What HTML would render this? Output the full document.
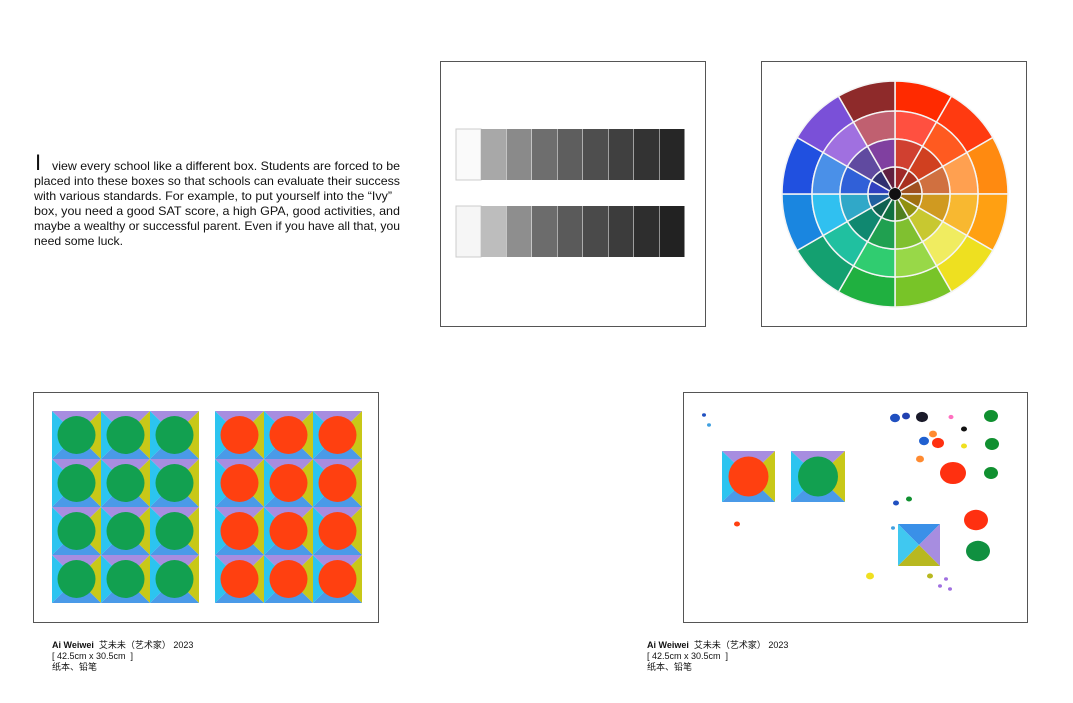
<!DOCTYPE html>
<html><head><meta charset="utf-8"><style>
html,body{margin:0;padding:0;background:#fff;}
body{width:1073px;height:703px;position:relative;overflow:hidden;font-family:"Liberation Sans","Noto Sans CJK SC",sans-serif;}
.frame{position:absolute;border:1px solid #555;box-sizing:border-box;background:#fff;}
.cap{position:absolute;font-size:9px;line-height:11px;color:#111;}
</style></head><body>
<svg style="position:absolute;left:0;top:140px" width="420" height="120" font-family="Liberation Sans, sans-serif" font-size="11.6" fill="#111">
<text x="35" y="30" font-size="22">I</text>
<text x="52" y="30" textLength="348" lengthAdjust="spacingAndGlyphs">view every school like a different box. Students are forced to be</text>
<text x="34" y="45" textLength="366" lengthAdjust="spacingAndGlyphs">placed into these boxes so that schools can evaluate their success</text>
<text x="34" y="60" textLength="358" lengthAdjust="spacingAndGlyphs">with various standards. For example, to put yourself into the   “Ivy”</text>
<text x="34" y="75" textLength="366" lengthAdjust="spacingAndGlyphs">box, you need a good SAT score, a high GPA, good activities, and</text>
<text x="34" y="90" textLength="366" lengthAdjust="spacingAndGlyphs">maybe a wealthy or successful parent. Even if you have all that, you</text>
<text x="34" y="105" textLength="89" lengthAdjust="spacingAndGlyphs">need some luck.</text>
</svg>

<div class="frame" style="left:440px;top:61px;width:266px;height:266px">
<svg id="gray" width="264" height="264"></svg></div>
<div class="frame" style="left:761px;top:61px;width:266px;height:266px">
<svg id="wheel" width="264" height="264"></svg></div>
<div class="frame" style="left:33px;top:392px;width:346px;height:231px">
<svg id="tiles" width="344" height="229"></svg></div>
<div class="frame" style="left:683px;top:392px;width:345px;height:231px">
<svg id="study" width="343" height="229"></svg></div>

<div class="cap" style="left:52px;top:640px"><b>Ai Weiwei</b>&nbsp; 艾未未（艺术家） 2023<br>[ 42.5cm x 30.5cm &nbsp;]<br>纸本、铅笔</div>
<div class="cap" style="left:647px;top:640px"><b>Ai Weiwei</b>&nbsp; 艾未未（艺术家） 2023<br>[ 42.5cm x 30.5cm &nbsp;]<br>纸本、铅笔</div>

<script>
const NS="http://www.w3.org/2000/svg";
function mk(p,t,a){const e=document.createElementNS(NS,t);for(const k in a)e.setAttribute(k,a[k]);p.appendChild(e);return e;}
const g=document.getElementById('gray');
const grays1=['#fafafa','#a8a8a8','#8a8a8a','#6e6e6e','#5e5e5e','#4e4e4e','#404040','#333','#262626'];
const grays2=['#f6f6f6','#bdbdbd','#8e8e8e','#6c6c6c','#5a5a5a','#4a4a4a','#3c3c3c','#2e2e2e','#222'];
[[grays1,67],[grays2,144]].forEach(([arr,y])=>{arr.forEach((c,i)=>{
 const x=i==0?15:40+(i-1)*25.5;
 const r=mk(g,'rect',{x:x,y:y,width:25,height:51,fill:c,stroke:i==0?'#ccc':'none'});
 });});
const w=document.getElementById('wheel');const cx=133,cy=132;
const outer=['#ff2a00','#ff3a10','#ff8a10','#ffa012','#eee020','#78c428','#20b040','#14a070','#1a86e0','#2050e0','#7a50d8','#8e2a2a'];
const mid=['#ff5040','#ff5a20','#ffa050','#f8b830','#f0ec60','#98d848','#30cc70','#20c0a0','#30c0f0','#4a90e8','#a070e0','#c06070'];
const inn=['#d04030','#d04020','#d07040','#d09a20','#c8c830','#80c030','#20a050','#108870','#30a8c8','#3060d8','#604aa0','#8040a0'];
const cen=['#a02828','#a83020','#a05020','#a07010','#909010','#508020','#107040','#106050','#2060a0','#3040c0','#303070','#602040'];
function arc(r1,r2,a1,a2,c){
 const p=(r,a)=>[cx+r*Math.cos((a-90)*Math.PI/180),cy+r*Math.sin((a-90)*Math.PI/180)];
 const A=p(r2,a1),B=p(r2,a2),C=p(r1,a2),D=p(r1,a1);
 return mk(w,'path',{d:`M${A}A${r2},${r2} 0 0 1 ${B}L${C}A${r1},${r1} 0 0 0 ${D}Z`,fill:c,stroke:'#f4f4f4','stroke-width':1.5});}
[[outer,83,113],[mid,55,83],[inn,27,55],[cen,6,27]].forEach(([arr,r1,r2])=>arr.forEach((c,i)=>{
 const e=arc(r1,r2,i*30,(i+1)*30,c);}));
mk(w,'circle',{cx:cx,cy:cy,r:6,fill:'#111'});
const t=document.getElementById('tiles');
function tile(svg,x,y,s,h,c,cr){
 const m=[x+s/2,y+h/2];
 mk(svg,'polygon',{points:`${x},${y} ${x+s},${y} ${m}`,fill:'#a78de0'});
 mk(svg,'polygon',{points:`${x},${y} ${x},${y+h} ${m}`,fill:'#2cc4f0'});
 mk(svg,'polygon',{points:`${x+s},${y} ${x+s},${y+h} ${m}`,fill:'#c8c818'});
 mk(svg,'polygon',{points:`${x},${y+h} ${x+s},${y+h} ${m}`,fill:'#4a9ae8'});
 if(c){const e=mk(svg,'circle',{cx:m[0],cy:m[1],r:cr,fill:c});}
}
[[18,'#12a050'],[181,'#ff4010']].forEach(([gx,c])=>{for(let r=0;r<4;r++)for(let k=0;k<3;k++)tile(t,gx+k*49,18+r*48,49,48,c,19);});
const s=document.getElementById('study');
tile(s,38,58,53,51,'#ff4010',20);
tile(s,107,58,54,51,'#12a050',20);
(function(){const x=214,y=131,S=42,m=[x+S/2,y+S/2];
 mk(s,'polygon',{points:`${x},${y} ${x+S},${y} ${m}`,fill:'#3a90e8'});
 mk(s,'polygon',{points:`${x},${y} ${x},${y+S} ${m}`,fill:'#40c8f0'});
 mk(s,'polygon',{points:`${x+S},${y} ${x+S},${y+S} ${m}`,fill:'#a78de0'});
 mk(s,'polygon',{points:`${x},${y+S} ${x+S},${y+S} ${m}`,fill:'#b8b820'});})();
const blobs=[[269,80,13,'#ff3010'],[292,127,12,'#ff3010'],[294,158,12,'#109040'],[307,23,7,'#109030'],[308,51,7,'#109030'],[307,80,7,'#109030'],[254,50,6,'#ff3010'],[211,25,5,'#2050c0'],[238,24,6,'#1a1a2a'],[249,41,4,'#ff8a30'],[236,66,4,'#ff8a30'],[240,48,5,'#2060d0'],[222,23,4,'#2040b0'],[280,36,3,'#111'],[267,24,2.5,'#ff70c0'],[280,53,3,'#f0e020'],[225,106,3,'#109030'],[212,110,3,'#2050c0'],[186,183,4,'#f0e020'],[246,183,3,'#b8b820'],[53,131,3,'#ff4010'],[209,135,2,'#40a0e0'],[20,22,2,'#2050c0'],[25,32,2,'#40a0e0'],[262,186,2,'#a070e0'],[266,196,2,'#a070e0'],[256,193,2,'#a070e0']];
blobs.forEach(b=>{const e=mk(s,'ellipse',{cx:b[0],cy:b[1],rx:b[2],ry:b[2]*0.85,fill:b[3]});});
</script>
</body></html>
